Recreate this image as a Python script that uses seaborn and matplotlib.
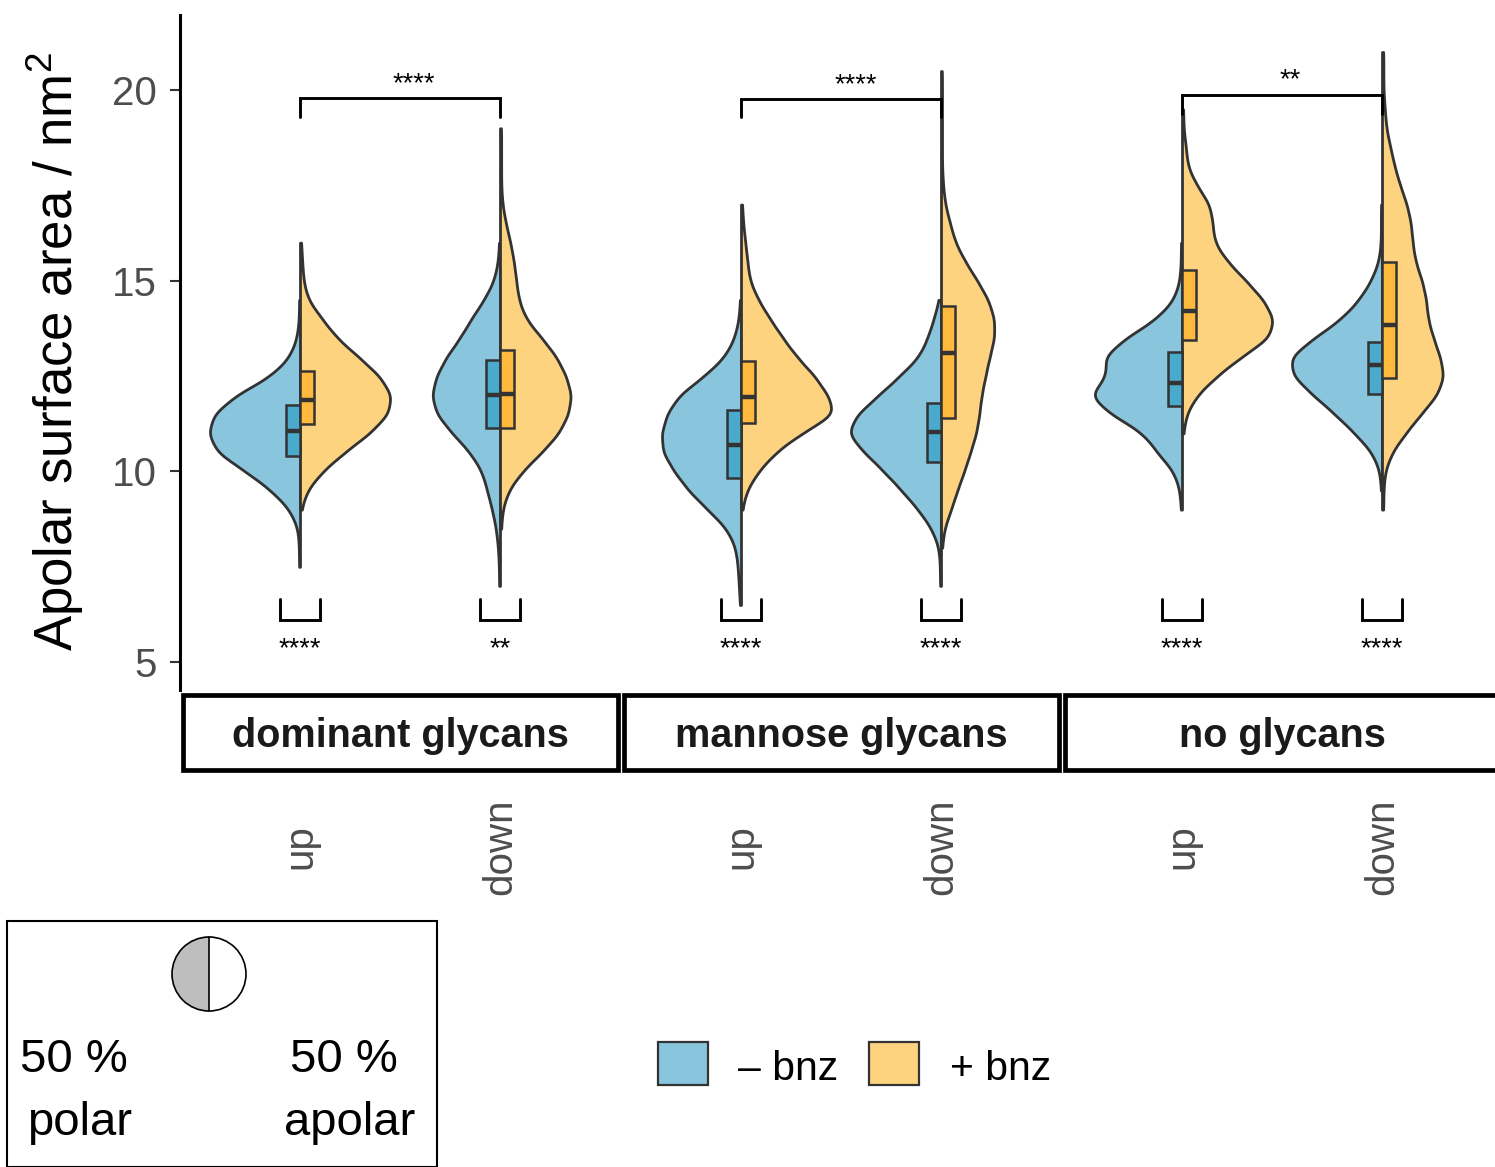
import numpy as np
import pandas as pd
import matplotlib
matplotlib.use("Agg")
import matplotlib.pyplot as plt
from matplotlib import transforms
from matplotlib.patches import Rectangle, Wedge, Circle
import seaborn as sns

sns.set_theme(style="white")
plt.rcParams["font.family"] = ["Liberation Sans", "DejaVu Sans"]
plt.rcParams["text.color"] = "black"
plt.rcParams["mathtext.fontset"] = "custom"
plt.rcParams["mathtext.rm"] = "Liberation Sans"
plt.rcParams["mathtext.it"] = "Liberation Sans:italic"

# ---------------------------------------------------------------- data
PANELS = ["dominant glycans", "mannose glycans", "no glycans"]
SIDES = ["up", "down"]
BNZ = ["\u2013 bnz", "+ bnz"]

# apolar surface area (nm^2) -> number of frames observed at that value
dom_up_minus = {7.5: 1, 8.0: 1, 8.5: 2, 9.0: 10, 9.5: 28, 10.0: 53, 10.5: 82, 11.0: 90,
                11.5: 85, 12.0: 63, 12.5: 28, 13.0: 10, 13.5: 3, 14.0: 1, 14.5: 1}
dom_up_plus = {9.0: 1, 9.5: 6, 10.0: 20, 10.5: 40, 11.0: 63, 11.5: 80, 12.0: 83, 12.5: 72,
               13.0: 53, 13.5: 33, 14.0: 20, 14.5: 7, 15.0: 3, 15.5: 2, 16.0: 1}
dom_down_minus = {7.0: 1, 7.5: 1, 8.0: 2, 8.5: 4, 9.0: 8, 9.5: 13, 10.0: 18, 10.5: 30,
                  11.0: 48, 11.5: 64, 12.0: 69, 12.5: 64, 13.0: 54, 13.5: 40, 14.0: 29,
                  14.5: 16, 15.0: 6, 15.5: 2, 16.0: 1}
dom_down_plus = {8.5: 1, 9.0: 2, 9.5: 7, 10.0: 19, 10.5: 36, 11.0: 51, 11.5: 59, 12.0: 62,
                 12.5: 57, 13.0: 49, 13.5: 36, 14.0: 22, 14.5: 16, 15.0: 14, 15.5: 12,
                 16.0: 9, 16.5: 5, 17.0: 2, 17.5: 1, 18.0: 1, 18.5: 1, 19.0: 1}
man_up_minus = {6.5: 1, 7.0: 2, 7.5: 3, 8.0: 5, 8.5: 13, 9.0: 31, 9.5: 49, 10.0: 62,
                10.5: 73, 11.0: 74, 11.5: 69, 12.0: 58, 12.5: 34, 13.0: 15, 13.5: 6,
                14.0: 2, 14.5: 1}
man_up_plus = {9.0: 1, 9.5: 5, 10.0: 16, 10.5: 32, 11.0: 56, 11.5: 89, 12.0: 81, 12.5: 69,
               13.0: 52, 13.5: 39, 14.0: 27, 14.5: 16, 15.0: 8, 15.5: 6, 16.0: 4,
               16.5: 2, 17.0: 1}
man_down_minus = {7.0: 1, 7.5: 1, 8.0: 2, 8.5: 9, 9.0: 22, 9.5: 38, 10.0: 55, 10.5: 74,
                  11.0: 91, 11.5: 81, 12.0: 60, 12.5: 40, 13.0: 21, 13.5: 13, 14.0: 7,
                  14.5: 2}
man_down_plus = {8.0: 1, 8.5: 3, 9.0: 10, 9.5: 16, 10.0: 23, 10.5: 29, 11.0: 35, 11.5: 38,
                 12.0: 40, 12.5: 44, 13.0: 48, 13.5: 53, 14.0: 53, 14.5: 47, 15.0: 36,
                 15.5: 24, 16.0: 14, 16.5: 9, 17.0: 4, 17.5: 2, 18.0: 1, 18.5: 1,
                 19.0: 1, 19.5: 1, 20.0: 1, 20.5: 1}
none_up_minus = {9.0: 1, 9.5: 2, 10.0: 7, 10.5: 22, 11.0: 33, 11.5: 62, 12.0: 82,
                 12.5: 64, 13.0: 69, 13.5: 49, 14.0: 22, 14.5: 7, 15.0: 2, 15.5: 1,
                 16.0: 1}
none_up_plus = {11.0: 1, 11.5: 3, 12.0: 11, 12.5: 26, 13.0: 44, 13.5: 66, 14.0: 69,
                14.5: 61, 15.0: 48, 15.5: 34, 16.0: 24, 16.5: 23, 17.0: 21, 17.5: 11,
                18.0: 4, 18.5: 3, 19.0: 1, 19.5: 1}
none_down_minus = {9.5: 1, 10.0: 2, 10.5: 9, 11.0: 25, 11.5: 43, 12.0: 63, 12.5: 82,
                   13.0: 85, 13.5: 62, 14.0: 37, 14.5: 21, 15.0: 10, 15.5: 3, 16.0: 1,
                   16.5: 1, 17.0: 1}
none_down_plus = {9.0: 1, 9.5: 1, 10.0: 2, 10.5: 7, 11.0: 17, 11.5: 28, 12.0: 40,
                  12.5: 45, 13.0: 42, 13.5: 37, 14.0: 33, 14.5: 32, 15.0: 29, 15.5: 24,
                  16.0: 22, 16.5: 21, 17.0: 18, 17.5: 13, 18.0: 9, 18.5: 6, 19.0: 3,
                  19.5: 2, 20.0: 1, 20.5: 1, 21.0: 1}

# quartiles of each group, [panel][side]
q1_minus = [[10.41, 11.14], [9.84, 10.26], [11.71, 12.03]]
med_minus = [[11.07, 12.00], [10.69, 11.03], [12.32, 12.79]]
q3_minus = [[11.74, 12.92], [11.61, 11.79], [13.14, 13.40]]
q1_plus = [[11.24, 11.15], [11.28, 11.40], [13.44, 12.44]]
med_plus = [[11.87, 12.03], [11.96, 13.10], [14.21, 13.84]]
q3_plus = [[12.64, 13.18], [12.89, 14.35], [15.28, 15.50]]

# significance: up vs down (+ bnz) per panel, and - vs + bnz per group
top_labels = ["****", "****", "**"]
bottom_labels = [["****", "**"], ["****", "****"], ["****", "****"]]

groups = {
    ("dominant glycans", "up"): (dom_up_minus, dom_up_plus),
    ("dominant glycans", "down"): (dom_down_minus, dom_down_plus),
    ("mannose glycans", "up"): (man_up_minus, man_up_plus),
    ("mannose glycans", "down"): (man_down_minus, man_down_plus),
    ("no glycans", "up"): (none_up_minus, none_up_plus),
    ("no glycans", "down"): (none_down_minus, none_down_plus),
}
frames = []
for (glyc, side), pair in groups.items():
    for label, counts in zip(BNZ, pair):
        vals = np.repeat(list(counts.keys()), list(counts.values()))
        frames.append(pd.DataFrame({"glycans": glyc, "side": side,
                                    "bnz": label, "value": vals}))
df = pd.concat(frames, ignore_index=True)

# ---------------------------------------------------------------- style
BLUE, ORANGE = "#89C6DE", "#FED37F"
BOX_BLUE, BOX_ORANGE = "#4AAACC", "#FFBA3E"
EDGE = "#333333"
TICK_GREY = "#4D4D4D"

W, H = 1495, 1167
fig = plt.figure(figsize=(W / 100, H / 100), dpi=100)


def px_rect(x0, y0, x1, y1):
    return [x0 / W, 1 - y1 / H, (x1 - x0) / W, (y1 - y0) / H]


def kde_bandwidth(kde):
    # fixed kernel width of 0.3 nm^2 for every group
    return 0.3 / np.std(kde.dataset, ddof=1)


YMIN, YMAX = 4.27, 21.97
top_y = [19.79, 19.76, 19.88]
top_leg = [19.29, 19.30, 19.37]
top_label_x = [0.57, 0.575, 0.54]

for i, panel in enumerate(PANELS):
    x0 = 180 + 441 * i
    ax = fig.add_axes(px_rect(x0, 15, x0 + 440, 690))
    sub = df[df["glycans"] == panel]
    sns.violinplot(data=sub, x="side", y="value", hue="bnz", order=SIDES,
                   hue_order=BNZ, split=True, inner=None, cut=0,
                   bw_method=kde_bandwidth, density_norm="area", common_norm=False,
                   width=0.9, gap=0, palette=[BLUE, ORANGE], saturation=1,
                   linecolor=EDGE, linewidth=2.0, legend=False, ax=ax)

    for j, (q1s, meds, q3s, fc, off) in enumerate([
            (q1_minus, med_minus, q3_minus, BOX_BLUE, -0.035),
            (q1_plus, med_plus, q3_plus, BOX_ORANGE, 0.035)]):
        stats = [dict(med=meds[i][k], q1=q1s[i][k], q3=q3s[i][k],
                      whislo=q1s[i][k], whishi=q3s[i][k], fliers=[])
                 for k in range(len(SIDES))]
        ax.bxp(stats, positions=[k + off for k in range(len(SIDES))], widths=0.07,
               patch_artist=True, showcaps=False, showfliers=False,
               boxprops=dict(facecolor=fc, edgecolor=EDGE, linewidth=1.8),
               medianprops=dict(color=EDGE, linewidth=3.2, solid_capstyle="butt"),
               whiskerprops=dict(linewidth=0), manage_ticks=False, zorder=3)

    # bracket between up and down
    ax.plot([0, 0, 1, 1], [top_leg[i], top_y[i], top_y[i], top_leg[i]],
            color="black", lw=2.1, solid_joinstyle="miter", clip_on=False, zorder=4)
    ax.text(top_label_x[i], top_y[i] + 0.19, top_labels[i], ha="center",
            va="baseline", fontsize=19.5, color="black")
    # brackets between - bnz and + bnz
    for k in range(len(SIDES)):
        ax.plot([k - 0.1, k - 0.1, k + 0.1, k + 0.1], [6.65, 6.10, 6.10, 6.65],
                color="black", lw=2.1, solid_joinstyle="miter", zorder=4)
        ax.text(k, 5.16, bottom_labels[i][k], ha="center", va="baseline",
                fontsize=19.5, color="black")

    ax.set_xlim(-0.6, 1.6)
    ax.set_ylim(YMIN, YMAX)
    ax.set_xlabel("")
    ax.set_ylabel("")
    ax.set_xticks([])
    for sp in ax.spines.values():
        sp.set_visible(False)
    if i == 0:
        ax.spines["left"].set_visible(True)
        ax.spines["left"].set_linewidth(2.2)
        ax.spines["left"].set_color("black")
        ax.set_yticks([5, 10, 15, 20])
        ax.tick_params(axis="y", left=True, length=7.5, width=1.5, color=EDGE,
                       labelsize=29, labelcolor=TICK_GREY, pad=9)
    else:
        ax.set_yticks([])

    # category labels below the strip
    tr = transforms.blended_transform_factory(ax.transData, fig.transFigure)
    for k, s in enumerate(SIDES):
        ax.text(k, 1 - 847 / H, s, transform=tr, rotation=90, ha="center",
                va="center", fontsize=29, color=TICK_GREY)

# overlay in pixel coordinates for strips and legends
ov = fig.add_axes([0, 0, 1, 1])
ov.set_xlim(0, W)
ov.set_ylim(H, 0)
ov.set_axis_off()

for i, panel in enumerate(PANELS):
    sx = 183 + 441 * i
    ov.add_patch(Rectangle((sx, 695), 435, 75, facecolor="white", edgecolor="black",
                           linewidth=3.4))
    ov.text(sx + 217.5, 747, panel, ha="center", va="baseline", fontsize=28.5,
            fontweight="bold", color="#1A1A1A")

fig.text(55 / W, 1 - 352 / H, "Apolar surface area / nm$^{2}$", rotation=90,
         ha="center", va="center", fontsize=38, color="black")

# fill legend
for xk, colr, xt, lab in [(658, BLUE, 738, BNZ[0]), (869, ORANGE, 950, BNZ[1])]:
    ov.add_patch(Rectangle((xk, 1042), 50, 43, facecolor=colr, edgecolor=EDGE,
                           linewidth=1.6))
    ov.text(xt, 1080, lab, ha="left", va="baseline", fontsize=29.5, color="black")

# polar / apolar key
ov.add_patch(Rectangle((7, 921), 430, 246, facecolor="none", edgecolor="black",
                       linewidth=1.5))
ov.add_patch(Wedge((209, 974), 37, 90, 270, facecolor="#BEBEBE", edgecolor="none"))
ov.add_patch(Wedge((209, 974), 37, 270, 90, facecolor="white", edgecolor="none"))
ov.add_patch(Circle((209, 974), 37, facecolor="none", edgecolor="black", linewidth=1.2))
ov.plot([209, 209], [937, 1011], color="black", lw=1.2)
ov.text(74, 1072, "50 %", ha="center", va="baseline", fontsize=34, color="black")
ov.text(80, 1135, "polar", ha="center", va="baseline", fontsize=34, color="black")
ov.text(344, 1072, "50 %", ha="center", va="baseline", fontsize=34, color="black")
ov.text(350, 1135, "apolar", ha="center", va="baseline", fontsize=34, color="black")

fig.savefig("out.png", dpi=100)
